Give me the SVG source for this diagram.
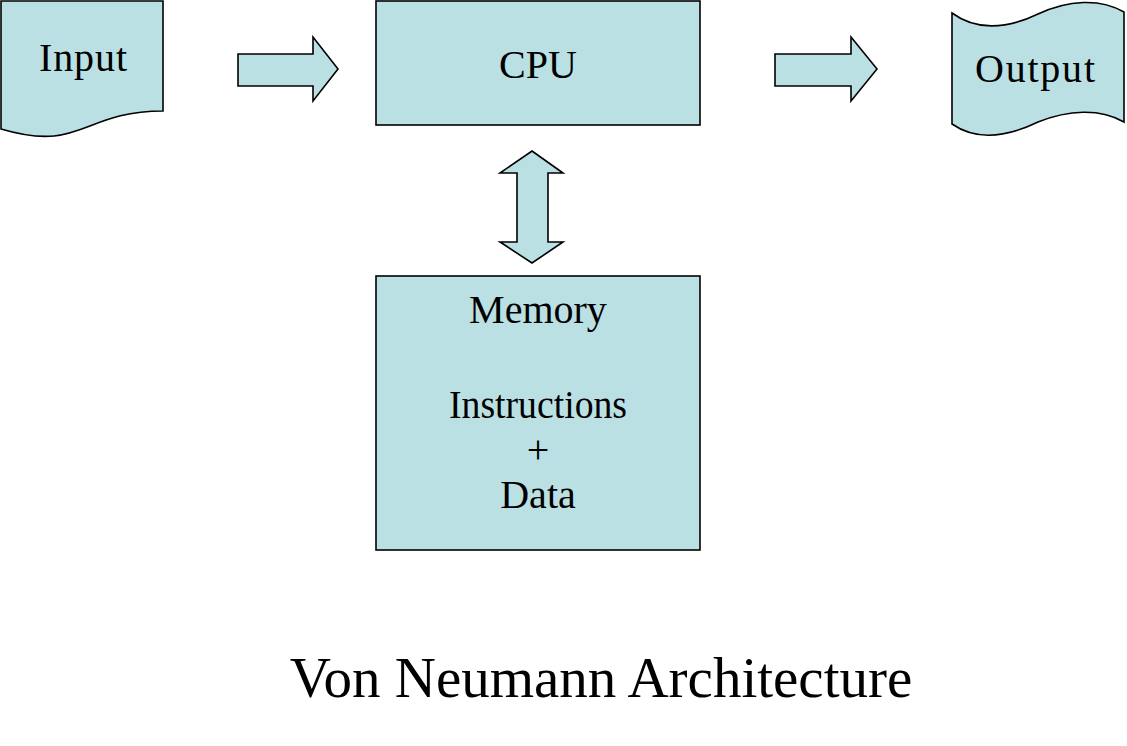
<svg xmlns="http://www.w3.org/2000/svg" width="1127" height="746" viewBox="0 0 1127 746">
<style>
.shape{fill:#BBE0E3;stroke:#000;stroke-width:1.6;stroke-linejoin:miter}
.lbl{font-family:"Liberation Serif","Times New Roman",serif;font-size:40px;fill:#000;text-anchor:middle}
.title{font-family:"Liberation Serif","Times New Roman",serif;font-size:57px;fill:#000;text-anchor:middle}
</style>
<rect width="1127" height="746" fill="#fff"/>
<g id="input">
<path class="shape" d="M1,1 H163 V111 C82,111 82,153 1,129 Z"/>
<text class="lbl" x="83" y="71" textLength="88" lengthAdjust="spacing">Input</text>
</g>
<g id="cpu">
<rect class="shape" x="376" y="1" width="324" height="124"/>
<text class="lbl" x="538" y="78">CPU</text>
</g>
<g id="output">
<path class="shape" d="M952,13 C975,30 1005,30 1038,14 C1068,0 1100,-2 1124,12 L1124,122 C1100,108 1068,110 1038,122 C1005,138 975,140 952,124 Z"/>
<text class="lbl" x="1035" y="82" textLength="120" lengthAdjust="spacing">Output</text>
</g>
<g id="memory">
<rect class="shape" x="376" y="276" width="324" height="274"/>
<text class="lbl" x="538" y="323">Memory</text>
<text class="lbl" x="538" y="418" textLength="178" lengthAdjust="spacingAndGlyphs">Instructions</text>
<text class="lbl" x="538" y="463">+</text>
<text class="lbl" x="538" y="508">Data</text>
</g>
<g id="connectors">
<path class="shape" d="M238,54 H313 V37 L338,69 L313,101 V86 H238 Z"/>
<path class="shape" d="M775,54 H851 V37 L877,69 L851,101 V86 H775 Z"/>
<path class="shape" d="M532,151 L563,173 H548 V242 H563 L532,263 L500,242 H517 V173 H500 Z"/>
</g>
<g id="caption">
<text class="title" x="601" y="697">Von Neumann Architecture</text>
</g>
</svg>
